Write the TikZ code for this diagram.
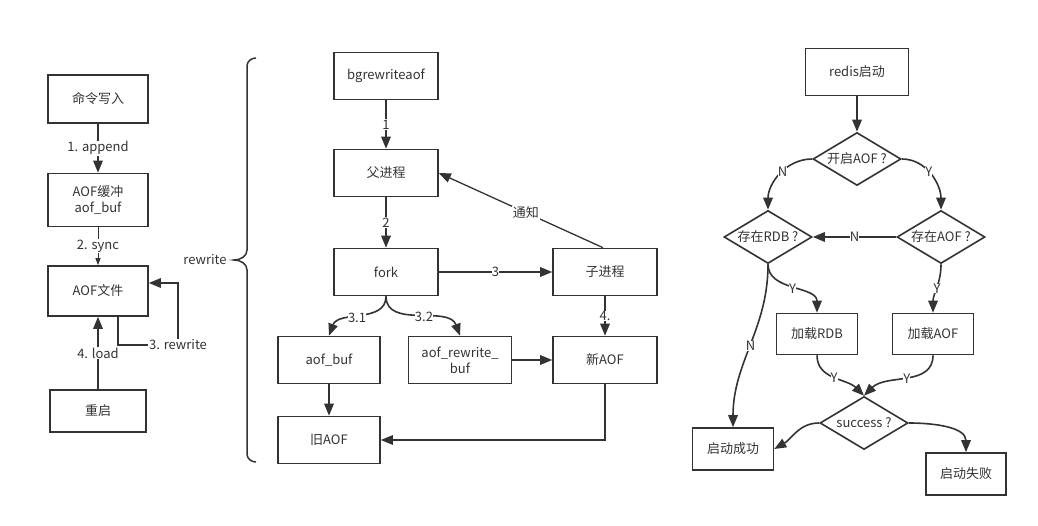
\documentclass[tikz,border=0pt]{standalone}
\usepackage{fontspec}
\setmainfont{Noto Sans CJK SC}
\usetikzlibrary{arrows.meta,shapes.geometric}

\tikzset{
    box/.style={draw, line width=1.6pt, minimum width=104, minimum height=47, inner sep=1pt, align=center},
    sbox/.style={box, minimum width=81, minimum height=41},
    dec/.style={draw, diamond, line width=1.6pt, minimum width=88, minimum height=53, inner sep=0pt},
    arr/.style={line width=1.6pt, -{Triangle[length=12pt,width=9.5pt]}},
    lbl/.style={fill=white, inner sep=1pt},
}

\begin{document}
\begin{tikzpicture}[x=1pt,y=-1pt,font=\fontsize{13}{16}\selectfont,black!80]
        \useasboundingbox (0,0) rectangle (1038,526);
        % left: aof write path
        \node[box, minimum width=100, minimum height=48] (mlxr) at (98,99) {命令写入};
        \node[box, minimum width=100, minimum height=53] (hc) at (98,200) {AOF缓冲\\aof\_buf};
        \node[box, minimum width=100, minimum height=50] (wj) at (98,291) {AOF文件};
        \node[box, minimum width=96, minimum height=42] (cq) at (98,411) {重启};
        \coordinate (rw) at (178,345);
        \draw[arr] (mlxr) -- node[lbl]{1. append} (hc);
        \draw[line width=1pt, -{Triangle[length=7pt,width=5pt]}] (hc) -- node[lbl]{2. sync} (wj);
        \draw[arr] (cq) -- node[lbl]{4. load} (wj);
        \draw[arr] ([xshift=20pt]wj.south) |- (rw) |- ([yshift=8pt]wj.east);
        \node[lbl] at (rw) {3. rewrite};
        % brace
        \draw[line width=1.5pt] (256,58) to[out=180,in=90] (247,66) -- (247,250)
            to[out=-90,in=0] (234,260) to[out=0,in=90] (247,270) -- (247,454)
            to[out=-90,in=180] (256,462);
        \node (rwl) at (205,260) {rewrite};

        % middle: bgrewriteaof
        \node[box] (bg) at (386,76) {bgrewriteaof};
        \node[box] (fjc) at (386,173) {父进程};
        \node[box] (fork) at (386,272) {fork};
        \node[box] (zjc) at (605,272) {子进程};
        \node[box, minimum width=102] (ab) at (329,360) {aof\_buf};
        \node[box, minimum width=103] (arb) at (460,360) {aof\_rewrite\_\\buf};
        \node[box] (xaof) at (605,360) {新AOF};
        \node[box, minimum width=102] (jiu) at (329,440) {旧AOF};
        \draw[arr] (bg) -- node[lbl]{1} (fjc);
        \draw[arr] (fjc) -- node[lbl]{2} (fork);
        \draw[arr] (fork) -- node[lbl, inner sep=0pt]{3} (zjc);
        \draw[arr, line width=1.3pt] ([xshift=-2pt]zjc.north) -- node[lbl, pos=0.47]{通知} (fjc.east);
        \draw[arr] (fork.south) to[out=-90,in=70] node[lbl, inner sep=0pt, pos=0.55]{3.1} (ab.north);
        \draw[arr] (fork.south) to[out=-90,in=110] node[lbl, inner sep=0pt, pos=0.55]{3.2} (arb.north);
        \draw[arr] (zjc) -- node[lbl, inner sep=0pt]{4.} (xaof);
        \draw[arr] (arb) -- (xaof);
        \draw[arr] (ab) -- (jiu);
        \draw[arr, line width=1.2pt] (xaof.south) |- (jiu.east);

        % right: redis startup
        \node[box, minimum width=103] (redis) at (857,72) {redis启动};
        \node[dec] (kq) at (857,159) {\makebox[0pt]{开启AOF ?}};
        \node[dec] (rdb) at (768,237) {\makebox[0pt]{存在RDB ?}};
        \node[dec] (aofq) at (941,237) {\makebox[0pt]{存在AOF ?}};
        \node[sbox] (jrdb) at (817,334) {加载RDB};
        \node[sbox] (jaof) at (933,334) {加载AOF};
        \node[dec] (sq) at (864,423) {\makebox[0pt]{success ?}};
        \node[sbox, minimum height=42] (cg) at (733,449) {启动成功};
        \node[sbox, minimum width=80, minimum height=42] (sb) at (966,474) {启动失败};
        \draw[arr] (redis) -- (kq);
        \draw[arr] (kq.west) to[out=180,in=90] node[lbl, inner sep=0pt, pos=0.45]{N} (rdb.north);
        \draw[arr] (kq.east) to[out=0,in=90] node[lbl, inner sep=0pt, pos=0.45]{Y} (aofq.north);
        \draw[arr] (aofq.west) -- node[lbl, inner sep=0pt]{N} (rdb.east);
        \draw[arr] (aofq.south) to[out=-90,in=90] node[lbl, inner sep=0pt]{Y} (jaof.north);
        \draw[arr] (rdb.south) to[out=-90,in=90] node[lbl, inner sep=0pt]{Y} (jrdb.north);
        \draw[arr] (rdb.south) to[out=-90,in=90] node[lbl, inner sep=0pt, pos=0.5]{N} (cg.north);
        \draw[arr] (jrdb.south) to[out=-90,in=135] node[lbl, inner sep=0pt, pos=0.5]{Y} (sq.north);
        \draw[arr] (jaof.south) to[out=-90,in=45] node[lbl, inner sep=0pt, pos=0.5]{Y} (sq.north);
        \draw[arr] (sq.west) to[out=180,in=30] (cg.east);
        \draw[arr] (sq.east) to[out=0,in=90] (sb.north);
\end{tikzpicture}
\end{document}
